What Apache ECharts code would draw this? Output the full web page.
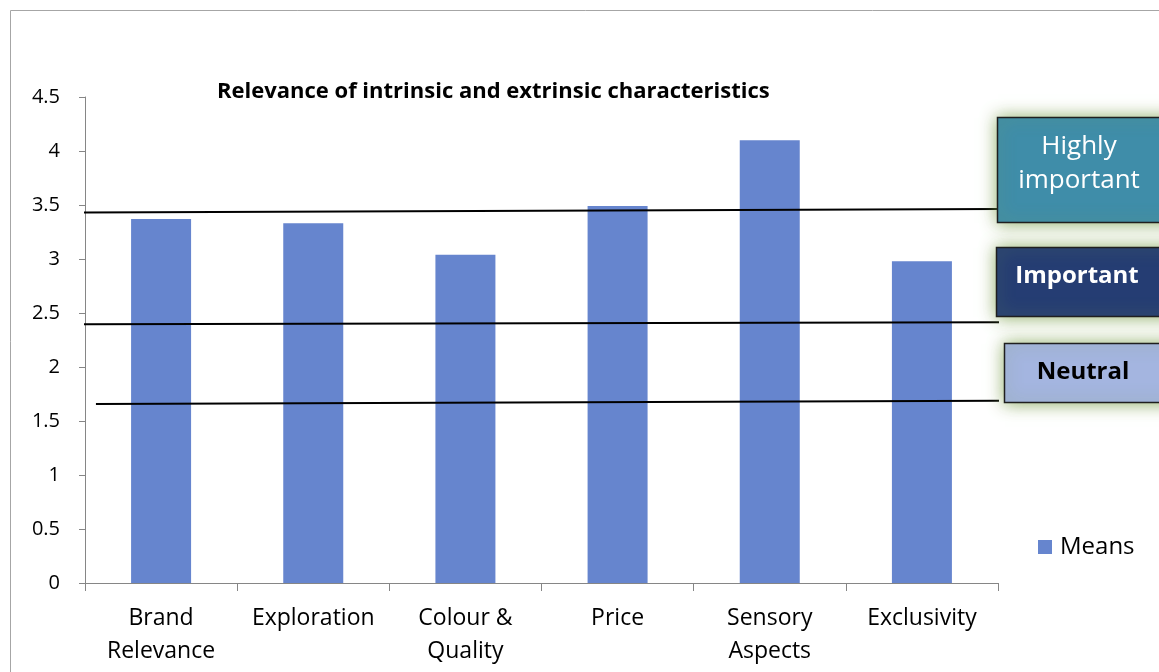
<!DOCTYPE html>
<html>
<head>
<meta charset="utf-8">
<script src="https://cdn.jsdelivr.net/npm/echarts@6/dist/echarts.min.js"></script>
<style>
  html, body { margin: 0; padding: 0; background: #fff; }
  #chart { width: 1159px; height: 672px; }
</style>
</head>
<body>
<div id="chart"></div>
<script>
// Mean relevance score per characteristic
const categories = ['Brand\nRelevance', 'Exploration', 'Colour &\nQuality', 'Price', 'Sensory\nAspects', 'Exclusivity'];
const means = [3.37, 3.33, 3.04, 3.49, 4.10, 2.98];
const yTicks = [0, 0.5, 1, 1.5, 2, 2.5, 3, 3.5, 4, 4.5];

// Threshold lines: [position across the plot (0 = left edge, 1 = right edge), score]
const highlyLine = [[-0.006, 3.43], [1.0, 3.463]];
const importantLine = [[-0.009, 2.395], [1.003, 2.414]];
const neutralLine = [[0.012, 1.657], [1.008, 1.688]];

// Band labels shown at the right
const bandLabels = ['Highly\nimportant', 'Important', 'Neutral'];

const FONT = '"Open Sans", Lato, sans-serif';
const chart = echarts.init(document.getElementById('chart'), null, { renderer: 'canvas' });

const thresholdSeries = (data) => ({
  type: 'line',
  xAxisIndex: 1,
  data: data,
  clip: false,
  symbol: 'none',
  silent: true,
  z: 5,
  lineStyle: { color: '#000', width: 2 }
});

chart.setOption({
  animation: false,
  backgroundColor: '#fff',
  title: {
    text: 'Relevance of intrinsic and extrinsic characteristics',
    left: 212,
    top: 76,
    textStyle: { fontFamily: FONT, fontSize: 22, fontWeight: 'bold', color: '#000' }
  },
  legend: {
    data: ['Means'],
    left: 1033,
    top: 530,
    itemWidth: 14,
    itemHeight: 14,
    icon: 'rect',
    textStyle: { fontFamily: FONT, fontSize: 24, color: '#000', padding: [0, 0, 0, 3] }
  },
  grid: { left: 85, right: 161, top: 97, bottom: 89, containLabel: false },
  xAxis: [
    {
      type: 'category',
      data: categories,
      axisLine: { lineStyle: { color: '#868686', width: 1 } },
      axisTick: { show: true, length: 8, lineStyle: { color: '#868686' } },
      axisLabel: {
        interval: 0,
        margin: 19,
        fontFamily: FONT,
        fontSize: 23,
        lineHeight: 33,
        color: '#000'
      }
    },
    {
      type: 'value',
      min: 0,
      max: 1,
      show: false
    }
  ],
  yAxis: {
    type: 'value',
    min: 0,
    max: 4.5,
    interval: 0.5,
    axisLine: { show: true, lineStyle: { color: '#868686' } },
    axisTick: { show: true, length: 6, lineStyle: { color: '#868686' } },
    splitLine: { show: false },
    axisLabel: {
      margin: 25,
      fontFamily: FONT,
      fontSize: 20,
      color: '#000',
      formatter: (v) => (yTicks.includes(v) ? String(v) : '')
    }
  },
  series: [
    {
      name: 'Means',
      type: 'bar',
      data: means,
      barWidth: 60,
      itemStyle: { color: '#6685CE' },
      z: 2
    },
    thresholdSeries(highlyLine),
    thresholdSeries(importantLine),
    thresholdSeries(neutralLine)
  ],
  graphic: [
    // chart frame
    {
      type: 'rect',
      shape: { x: 10.5, y: 10.5, width: 1200, height: 700 },
      style: { fill: 'none', stroke: '#a6a6a6', lineWidth: 1 },
      silent: true,
      z: 0
    },
    // band boxes with soft green glow
    {
      type: 'rect',
      shape: { x: 997.5, y: 117.5, width: 200, height: 105 },
      style: { fill: '#3F8DA9', stroke: '#1f1f1f', lineWidth: 1.5,
               shadowBlur: 16, shadowColor: 'rgba(125,160,75,0.85)' },
      z: 10
    },
    {
      type: 'rect',
      shape: { x: 996.5, y: 247.5, width: 200, height: 69 },
      style: { fill: '#253D73', stroke: '#1f1f1f', lineWidth: 1.5,
               shadowBlur: 16, shadowColor: 'rgba(125,160,75,0.85)' },
      z: 10
    },
    {
      type: 'rect',
      shape: { x: 1004.5, y: 343.5, width: 200, height: 59 },
      style: { fill: '#A4B5E0', stroke: '#1f1f1f', lineWidth: 1.5,
               shadowBlur: 16, shadowColor: 'rgba(125,160,75,0.85)' },
      z: 10
    },
    {
      type: 'text',
      x: 1079, y: 164,
      style: { text: bandLabels[0], fill: '#fff', font: '26px ' + FONT,
               textAlign: 'center', textVerticalAlign: 'middle', lineHeight: 34 },
      z: 11
    },
    {
      type: 'text',
      x: 1077, y: 276,
      style: { text: bandLabels[1], fill: '#fff', font: 'bold 24px ' + FONT,
               textAlign: 'center', textVerticalAlign: 'middle' },
      z: 11
    },
    {
      type: 'text',
      x: 1083, y: 372,
      style: { text: bandLabels[2], fill: '#000', font: 'bold 24px ' + FONT,
               textAlign: 'center', textVerticalAlign: 'middle' },
      z: 11
    }
  ]
});
</script>
</body>
</html>
